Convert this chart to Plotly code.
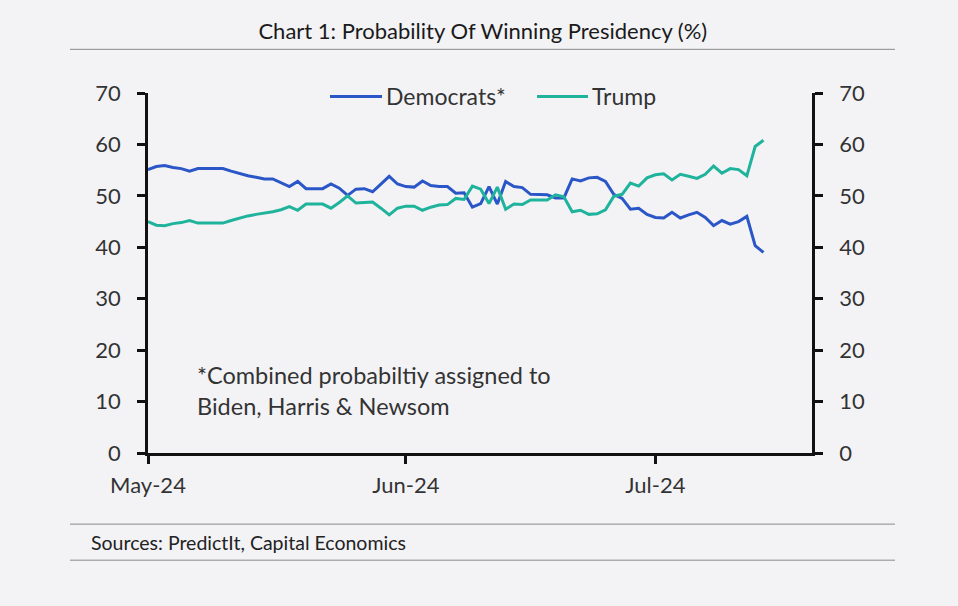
import pandas as pd
import plotly.graph_objects as go

# ---- data (daily from 1 May 2024) ----
dates = pd.date_range("2024-05-01", periods=75, freq="D")

democrats = [55.1, 55.7, 55.9, 55.5, 55.3, 54.8, 55.3, 55.3, 55.3, 55.3,
             54.8, 54.3, 53.9, 53.6, 53.3, 53.3, 52.6, 51.8, 52.8, 51.4,
             51.4, 51.4, 52.3, 51.5, 50.1, 51.3, 51.4, 50.8, 52.3, 53.8,
             52.3, 51.8, 51.7, 52.9, 52.0, 51.8, 51.8, 50.5, 50.6, 47.8,
             48.5, 51.8, 48.4, 52.8, 51.8, 51.6, 50.3, 50.2, 50.2, 49.6,
             49.6, 53.3, 52.9, 53.5, 53.6, 52.8, 50.3, 49.5, 47.4, 47.6,
             46.4, 45.8, 45.7, 46.8, 45.7, 46.3, 46.8, 45.8, 44.2, 45.2,
             44.5, 45.0, 46.0, 40.3, 39.0]

trump = [45.0, 44.3, 44.2, 44.6, 44.8, 45.2, 44.7, 44.7, 44.7, 44.7,
         45.2, 45.7, 46.1, 46.4, 46.6, 46.9, 47.3, 47.9, 47.2, 48.4,
         48.4, 48.4, 47.6, 48.7, 50.0, 48.6, 48.7, 48.8, 47.6, 46.3,
         47.6, 48.0, 48.0, 47.2, 47.8, 48.2, 48.3, 49.5, 49.3, 51.9,
         51.3, 48.5, 51.7, 47.4, 48.4, 48.3, 49.2, 49.2, 49.2, 50.2,
         49.8, 46.9, 47.2, 46.4, 46.5, 47.3, 49.9, 50.3, 52.5, 51.9,
         53.5, 54.1, 54.3, 53.1, 54.2, 53.8, 53.4, 54.2, 55.8, 54.4,
         55.3, 55.1, 53.9, 59.6, 60.8]

x_tick_vals = ["2024-05-01", "2024-06-01", "2024-07-01"]
x_tick_text = ["May-24", "Jun-24", "Jul-24"]
y_ticks = [0, 10, 20, 30, 40, 50, 60, 70]

# ---- style ----
BG = "#F3F3F6"
DEM_C = "#2B56C7"
TRUMP_C = "#1FB39C"
FONT = "Lato"
TXT = "#333333"

fig = go.Figure()
fig.add_trace(go.Scatter(x=dates, y=democrats, mode="lines", name="Democrats*",
                         line=dict(color=DEM_C, width=3), showlegend=False))
fig.add_trace(go.Scatter(x=dates, y=trump, mode="lines", name="Trump",
                         line=dict(color=TRUMP_C, width=3), showlegend=False))
# invisible trace to activate the right axis
fig.add_trace(go.Scatter(x=dates[:1], y=trump[:1], yaxis="y2", mode="lines",
                         line=dict(width=0), hoverinfo="skip", showlegend=False))

axis_common = dict(range=[0, 70], tickvals=y_ticks, showgrid=False, zeroline=False,
                   showline=True, linecolor="#111111", linewidth=2.5,
                   ticks="outside", ticklen=8, tickwidth=2.5, tickcolor="#111111",
                   tickfont=dict(family=FONT, size=22, color=TXT),
                   ticklabelstandoff=12)

fig.update_layout(
    width=958, height=606,
    paper_bgcolor=BG, plot_bgcolor=BG,
    margin=dict(l=148, r=146, t=93, b=153),
    title=dict(text="Chart 1: Probability Of Winning Presidency (%)",
               x=0.504, xanchor="center", y=1 - 31 / 606, yanchor="middle",
               font=dict(family=FONT, size=22, color="#1a1a1a")),
    xaxis=dict(type="date", range=["2024-05-01", "2024-07-19 20:00"],
               tickvals=x_tick_vals, ticktext=x_tick_text,
               showgrid=False, zeroline=False, showline=True,
               linecolor="#111111", linewidth=2.5,
               ticks="outside", ticklen=8, tickwidth=2.5, tickcolor="#111111",
               tickfont=dict(family=FONT, size=22, color=TXT),
               ticklabelstandoff=3),
    yaxis=dict(**axis_common),
    yaxis2=dict(overlaying="y", side="right", anchor="x", **axis_common),
    showlegend=False,
)

# legend drawn manually
def px2paper_x(px):
    return (px - 148) / 664.0

def px2paper_y(py):
    return (453 - py) / 359.4

ly = px2paper_y(97)
for x0, x1, col, label in [(330, 382, DEM_C, "Democrats*"), (537, 588, TRUMP_C, "Trump")]:
    fig.add_shape(type="line", xref="paper", yref="paper",
                  x0=px2paper_x(x0), x1=px2paper_x(x1), y0=ly, y1=ly,
                  line=dict(color=col, width=3))
    fig.add_annotation(xref="paper", yref="paper", x=px2paper_x(x1 + 2), y=ly,
                       xanchor="left", yanchor="middle", showarrow=False,
                       text=label, font=dict(family=FONT, size=23, color=TXT))

# note
fig.add_annotation(xref="paper", yref="paper", x=px2paper_x(195), y=px2paper_y(391),
                   xanchor="left", yanchor="middle", align="left", showarrow=False,
                   text="*Combined probabiltiy assigned to<br>Biden, Harris &amp; Newsom",
                   font=dict(family=FONT, size=23.5, color=TXT))

# rules and source
for py in (50, 524, 560):
    fig.add_shape(type="line", xref="paper", yref="paper",
                  x0=px2paper_x(70), x1=px2paper_x(895),
                  y0=px2paper_y(py), y1=px2paper_y(py),
                  line=dict(color="#8a8a8a", width=1))
fig.add_annotation(xref="paper", yref="paper", x=px2paper_x(89), y=px2paper_y(542),
                   xanchor="left", yanchor="middle", showarrow=False,
                   text="Sources: PredictIt, Capital Economics",
                   font=dict(family=FONT, size=19.5, color="#222222"))

fig.write_html("out.html",
               config={"displayModeBar": False},
               post_script="document.body.style.margin='0';document.body.style.background='" + BG + "';")
